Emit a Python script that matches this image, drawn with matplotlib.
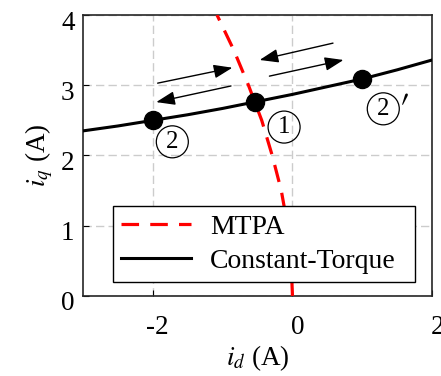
import numpy as np
import matplotlib
matplotlib.use('Agg')
import matplotlib.pyplot as plt
import matplotlib.transforms as mtransforms

# constant-torque curve (id, iq)
ct_id = [-3.0, -2.5, -2.0, -1.5, -1.0, -0.5, 0.0, 0.5, 1.0, 1.5, 2.0]
ct_iq = [2.35, 2.42, 2.50, 2.58, 2.67, 2.77, 2.87, 2.98, 3.09, 3.22, 3.36]

# MTPA trajectory (id, iq)
mtpa_iq = [0.0, 0.5, 1.0, 1.5, 2.0, 2.5, 3.0, 3.5, 4.0]
mtpa_id = [0.0, -0.02, -0.07, -0.16, -0.29, -0.44, -0.63, -0.84, -1.08]

# operating points
pt_id = [-2.0, -0.54, 1.0]
pt_iq = [2.50, 2.76, 3.09]
pt_labels = ['2', '1', '2']
lab_pos = [(-1.72, 2.23), (-0.12, 2.44), (1.30, 2.70)]

# arrows: (start, end)
arrows = [((-1.93, 3.03), (-0.86, 3.25)),
          ((-0.88, 2.99), (-1.95, 2.76)),
          ((0.58, 3.60), (-0.47, 3.36)),
          ((-0.33, 3.13), (0.73, 3.36))]

plt.rcParams['font.family'] = ['Liberation Serif', 'DejaVu Serif', 'DejaVu Sans']
plt.rcParams['mathtext.fontset'] = 'stix'
plt.rcParams['axes.unicode_minus'] = False
plt.rcParams['font.size'] = 19

fig = plt.figure(figsize=(4.41, 3.76), dpi=100)
ax = fig.add_axes([0.188, 0.213, 0.792, 0.747])

ax.plot(mtpa_id, mtpa_iq, color='red', lw=2.3, ls=(0, (5.5, 3.5)), label='MTPA', zorder=3)
ax.plot(ct_id, ct_iq, color='black', lw=2.2, label='Constant-Torque', zorder=3)
ax.plot(pt_id, pt_iq, 'o', color='black', ms=13, zorder=4)

# circled point numbers
for s, (x, y) in zip(pt_labels, lab_pos):
    ax.text(x, y, s, fontsize=18, ha='center', va='center_baseline', zorder=5,
            bbox=dict(boxstyle='circle,pad=0.2', fc='none', ec='black', lw=0.9))
ax.text(1.59, 2.66, r'$\prime$', fontsize=30, ha='center', va='center', zorder=5)

for (x0, y0), (x1, y1) in arrows:
    ax.annotate('', xy=(x1, y1), xytext=(x0, y0),
                arrowprops=dict(arrowstyle='-|>,head_length=0.6,head_width=0.22',
                                color='black', lw=1.0, shrinkA=0, shrinkB=0), zorder=5)

ax.set_xlim(-3, 2)
ax.set_ylim(0, 4)
ax.set_xticks([-2, 0, 2])
ax.set_yticks([0, 1, 2, 3, 4])
ax.grid(True, color='#cccccc', ls=(0, (6, 3)), lw=1)
ax.set_axisbelow(True)
ax.tick_params(direction='in', length=4, width=0.8, labelsize=19.5)
ax.tick_params(axis='x', pad=14)
ax.tick_params(axis='y', pad=6)
for sp in ax.spines.values():
    sp.set_linewidth(1.2)
    sp.set_color('#262626')

dx = mtransforms.ScaledTranslation(5 / 100, 0, fig.dpi_scale_trans)
for lab in ax.get_xticklabels():
    lab.set_transform(lab.get_transform() + dx)
dy = mtransforms.ScaledTranslation(0, -5 / 100, fig.dpi_scale_trans)
for lab in ax.get_yticklabels():
    lab.set_transform(lab.get_transform() + dy)

ax.set_xlabel(r'$i_d$ (A)', fontsize=19.5, labelpad=2)
ax.set_ylabel(r'$i_q$ (A)', fontsize=19.5, labelpad=4)

leg = ax.legend(loc='lower left', bbox_to_anchor=(0.086, 0.05, 0.865, 0.28), mode='expand',
                fontsize=20, frameon=True, fancybox=False, framealpha=1,
                edgecolor='black', handlelength=2.5, handletextpad=0.7,
                labelspacing=0.3, borderpad=0.3, borderaxespad=0)
leg.get_frame().set_linewidth(1)
leg.set_zorder(6)

fig.savefig('out.png', dpi=100)
